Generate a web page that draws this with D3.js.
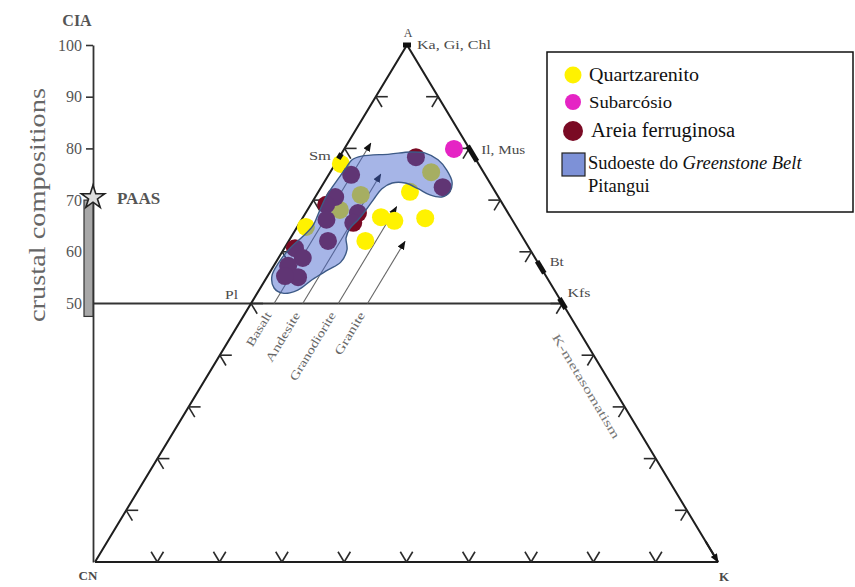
<!DOCTYPE html>
<html><head><meta charset="utf-8">
<script src="https://cdn.jsdelivr.net/npm/d3@7"></script>
<style>
body{margin:0;background:#fff}
svg{display:block}
text{font-family:"Liberation Serif","DejaVu Serif",serif}
</style>
</head><body>
<svg id="c" width="855" height="587"></svg>
<script>
// ---------------- DATA ----------------
const ciaTicks = [50, 60, 70, 80, 90, 100];
const crustalRange = [47.5, 70];
const paasCIA = 70.5;
const edgeTicks = [10, 20, 30, 40, 50, 60, 70, 80, 90];
const cornerNames = ["A", "CN", "K"];

const mineralNames = ["Ka, Gi, Chl", "Il, Mus", "Bt", "Kfs", "Sm", "Pl"];
const mineralA = [100, 79, 57, 50, 78.5, 50];
const mineralK = [0, 21, 43, 50, 0, 0];

const trendNames = ["Basalt", "Andesite", "Granodiorite", "Granite"];
const trendK = [3.7, 8.3, 14.0, 18.7];
const trendTopA = [81, 75, 68.7, 62];

// samples: A (%) and K (%) of the A–CN–K triangle
const quartzA = [77.0, 64.8, 71.6, 66.7, 66.0, 66.5, 62.1, 75.4, 71.0, 68.1];
const quartzK = [0.9, 1.4, 14.7, 12.5, 15.0, 19.7, 12.3, 16.2, 7.1, 5.2];
const subarcA = [79.9];
const subarcK = [17.6];
const ferroA = [74.9, 78.3, 72.5, 70.6, 69.1, 66.2, 62.1, 67.5, 65.6, 60.7, 58.8, 57.3, 55.1, 55.3];
const ferroK = [3.6, 12.3, 19.5, 3.2, 2.5, 4.0, 6.3, 8.4, 8.6, 1.7, 3.9, 2.3, 5.0, 2.8];

// field of the southwest Greenstone Belt Pitangui
const fieldA = [77.8, 78.5, 78.9, 79.3, 79.1, 77.8, 75.8, 73.5, 71.6, 70.6, 71.0, 72.2, 73.3, 73.3, 72.2, 70.2, 68.1, 66.2, 64.6, 62.7, 60.4, 58.0, 56.5, 54.6, 52.6, 52.0, 53.0, 55.3, 58.0, 60.7, 62.9, 65.0, 68.1, 71.0, 73.9, 76.2];
const fieldK = [2.3, 3.5, 7.8, 10.9, 13.4, 16.1, 18.5, 20.5, 21.1, 20.3, 18.2, 15.7, 13.1, 11.0, 9.9, 9.6, 9.4, 9.1, 8.6, 8.9, 10.2, 10.4, 9.1, 7.5, 6.2, 4.1, 2.2, 0.7, 0.5, 0.9, 1.8, 2.4, 2.0, 1.7, 1.9, 2.1];

const legendLabels = ["Quartzarenito", "Subarcósio", "Areia ferruginosa"];
const colors = {quartz: "#fff200", subarc: "#e524c4", ferro: "#7a0a24", field: "rgb(70,100,205)", swatch: "#7d91d7"};

// ---------------- SCALES ----------------
const svg = d3.select("#c");
const aY = d3.scaleLinear().domain([0, 100]).range([562, 45]);
const kX = d3.scaleLinear().domain([0, 100]).range([95, 718]);
const aX = d3.scaleLinear().domain([0, 100]).range([0, 312]);
function proj(a, k) { return [kX(k) + aX(a), aY(a)]; }
const CNp = proj(0, 0), Kp = proj(0, 100), Ap = proj(100, 0);
function unit(p, q) { const dx = q[0] - p[0], dy = q[1] - p[1], l = Math.hypot(dx, dy); return [dx / l, dy / l]; }
const leftAng = Math.atan2(Ap[1] - CNp[1], Ap[0] - CNp[0]) * 180 / Math.PI;   // ~ -59
const rightAng = Math.atan2(Kp[1] - Ap[1], Kp[0] - Ap[0]) * 180 / Math.PI;    // ~ 59

const defs = svg.append("defs");
defs.append("marker").attr("id", "ah").attr("viewBox", "0 0 10 10").attr("refX", 9).attr("refY", 5)
  .attr("markerWidth", 9).attr("markerHeight", 9).attr("markerUnits", "userSpaceOnUse").attr("orient", "auto")
  .append("path").attr("d", "M0,1L10,5L0,9z").attr("fill", "#111");
defs.append("marker").attr("id", "ahk").attr("viewBox", "0 0 10 10").attr("refX", 9).attr("refY", 5)
  .attr("markerWidth", 9).attr("markerHeight", 9).attr("markerUnits", "userSpaceOnUse").attr("orient", "auto")
  .append("path").attr("d", "M0,1L10,5L0,9z").attr("fill", "#111");

const gray = "#4a4a4a";

// ---------------- CIA AXIS ----------------
const axis = d3.axisLeft(aY).tickValues(ciaTicks).tickSize(7).tickSizeOuter(0).tickPadding(4);
const ax = svg.append("g").attr("transform", "translate(93,0)").call(axis);
ax.select(".domain").attr("stroke", "#333").attr("stroke-width", 1.8);
ax.selectAll(".tick line").attr("stroke", "#333").attr("stroke-width", 1.6);
ax.selectAll(".tick text").attr("font-family", "Liberation Serif").attr("font-size", 16).attr("fill", "#555");

svg.append("text").attr("x", 77).attr("y", 26).attr("text-anchor", "middle")
  .attr("font-size", 16).attr("font-weight", "bold").attr("fill", "#555").text("CIA");
svg.append("text").attr("transform", "translate(45,205) rotate(-90)")
  .attr("text-anchor", "middle").attr("font-size", 24).attr("fill", "#666")
  .attr("textLength", 234).attr("lengthAdjust", "spacingAndGlyphs").text("crustal compositions");

// 50 line
svg.append("line").attr("x1", 93).attr("y1", aY(50)).attr("x2", proj(50, 50)[0]).attr("y2", aY(50))
  .attr("stroke", "#333").attr("stroke-width", 2.2);

// crustal bar
svg.append("rect").attr("x", 84).attr("width", 9).attr("y", aY(crustalRange[1]))
  .attr("height", aY(crustalRange[0]) - aY(crustalRange[1]))
  .attr("fill", "#a8a8a8").attr("stroke", "#333").attr("stroke-width", 1.2);
svg.append("path").attr("d", d3.symbol(d3.symbolStar, 170)())
  .attr("transform", `translate(93,${aY(paasCIA)})`)
  .attr("fill", "#ddd").attr("stroke", "#222").attr("stroke-width", 1.6);
svg.append("text").attr("x", 117).attr("y", aY(paasCIA) + 6).attr("font-size", 17)
  .attr("font-weight", "bold").attr("fill", "#555").text("PAAS");

// ---------------- TRIANGLE ----------------
svg.append("path").attr("d", d3.line()([CNp, Ap, Kp]))
  .attr("fill", "none").attr("stroke", "#1e1e1e").attr("stroke-width", 2);
svg.append("line").attr("x1", CNp[0]).attr("y1", CNp[1]).attr("x2", Kp[0]).attr("y2", Kp[1])
  .attr("stroke", "#1e1e1e").attr("stroke-width", 2.2);
const kArrowStart = proj(4, 96);
svg.append("line").attr("x1", kArrowStart[0]).attr("y1", kArrowStart[1]).attr("x2", Kp[0]).attr("y2", Kp[1])
  .attr("stroke", "#1e1e1e").attr("stroke-width", 2).attr("marker-end", "url(#ahk)");

// edge ticks (grid stubs)
const armLen = 12;
const tickArms = [];
edgeTicks.forEach(t => {
  const pb = proj(0, t);
  tickArms.push([pb, unit(CNp, Ap)], [pb, unit(Kp, Ap)]);
  const pl = proj(t, 0);
  tickArms.push([pl, unit(CNp, Kp)], [pl, unit(Ap, Kp)]);
  const pr = proj(t, 100 - t);
  tickArms.push([pr, unit(Kp, CNp)], [pr, unit(Ap, CNp)]);
});
svg.append("g").selectAll("line").data(tickArms).join("line")
  .attr("x1", d => d[0][0]).attr("y1", d => d[0][1])
  .attr("x2", d => d[0][0] + d[1][0] * armLen).attr("y2", d => d[0][1] + d[1][1] * armLen)
  .attr("stroke", "#2a2a2a").attr("stroke-width", 1.6);

// corner labels
svg.append("text").attr("x", Ap[0] + 1).attr("y", Ap[1] - 8).attr("text-anchor", "middle")
  .attr("font-size", 12).attr("fill", gray).text(cornerNames[0]);
svg.append("text").attr("x", CNp[0] - 7).attr("y", CNp[1] + 18).attr("text-anchor", "middle")
  .attr("font-size", 13).attr("font-weight", "bold").attr("fill", gray).text(cornerNames[1]);
svg.append("text").attr("x", Kp[0] + 6).attr("y", Kp[1] + 19).attr("text-anchor", "middle")
  .attr("font-size", 13).attr("font-weight", "bold").attr("fill", gray).text(cornerNames[2]);

// ---------------- TREND LINES ----------------
const trendLen = {"Basalt": 38, "Andesite": 56, "Granodiorite": 78, "Granite": 48};
trendNames.forEach((n, i) => {
  const p0 = proj(50, trendK[i]), p1 = proj(trendTopA[i], trendK[i]);
  svg.append("line").attr("x1", p0[0]).attr("y1", p0[1]).attr("x2", p1[0]).attr("y2", p1[1])
    .attr("stroke", "#666").attr("stroke-width", 1.1).attr("marker-end", "url(#ah)");
  const pl = proj(48.2, trendK[i]);
  svg.append("text").attr("transform", `translate(${pl[0]},${pl[1]}) rotate(${leftAng})`)
    .attr("text-anchor", "end").attr("dy", "0.35em").attr("font-size", 12).attr("fill", "#666")
    .attr("textLength", trendLen[n]).attr("lengthAdjust", "spacingAndGlyphs").text(n);
});
// K-metasomatism label
{
  const pe = proj(34, 66);
  svg.append("text").attr("transform", `translate(${pe[0] - 26},${pe[1]}) rotate(${rightAng})`)
    .attr("text-anchor", "middle").attr("dy", "0.35em").attr("font-size", 12).attr("fill", "#777")
    .attr("textLength", 120).attr("lengthAdjust", "spacingAndGlyphs").text("K-metasomatism");
}

// ---------------- SAMPLES ----------------
const r = 9;
function dots(A, K, color) {
  svg.append("g").selectAll("circle").data(A.map((a, i) => proj(a, K[i]))).join("circle")
    .attr("cx", d => d[0]).attr("cy", d => d[1]).attr("r", r).attr("fill", color);
}
dots(quartzA, quartzK, colors.quartz);
dots(subarcA, subarcK, colors.subarc);
dots(ferroA, ferroK, colors.ferro);

// field overlay
const fieldPts = fieldA.map((a, i) => proj(a, fieldK[i]));
svg.append("path").attr("d", d3.line().curve(d3.curveCatmullRomClosed.alpha(0.5))(fieldPts))
  .attr("fill", colors.field).attr("fill-opacity", 0.48).attr("stroke", "#3d5a86").attr("stroke-width", 1.4);

// mineral markers + labels
const labelStyle = {
  "Ka, Gi, Chl": {dx: 10, dy: 4, anchor: "start", len: 74},
  "Il, Mus": {dx: 9, dy: 0, anchor: "start", len: 44},
  "Bt": {dx: 9, dy: -1, anchor: "start", len: 14},
  "Kfs": {dx: 5, dy: -7, anchor: "start", len: 23},
  "Sm": {dx: -9, dy: 4, anchor: "end", len: 22},
  "Pl": {dx: -13, dy: -5, anchor: "end", len: 13}
};
const markerLen = {"Ka, Gi, Chl": 8, "Il, Mus": 18, "Bt": 14, "Kfs": 12, "Sm": 6, "Pl": 0};
mineralNames.forEach((n, i) => {
  const p = proj(mineralA[i], mineralK[i]);
  const onLeft = mineralK[i] === 0 && mineralA[i] < 100;
  const ang = onLeft ? leftAng : rightAng;
  const L = markerLen[n];
  if (L > 0) {
    svg.append("rect").attr("x", -L / 2).attr("y", -2.5).attr("width", L).attr("height", 5)
      .attr("transform", `translate(${p[0]},${p[1]}) rotate(${n === "Ka, Gi, Chl" ? 0 : ang})`)
      .attr("fill", "#111");
  }
  const s = labelStyle[n];
  svg.append("text").attr("x", p[0] + s.dx).attr("y", p[1] + s.dy).attr("text-anchor", s.anchor)
    .attr("font-size", 12.5).attr("fill", gray)
    .attr("textLength", s.len).attr("lengthAdjust", "spacingAndGlyphs").text(n);
});

// ---------------- LEGEND ----------------
const lg = svg.append("g");
lg.append("rect").attr("x", 547).attr("y", 52).attr("width", 306).attr("height", 160)
  .attr("fill", "#fff").attr("stroke", "#111").attr("stroke-width", 1.5);
const legColors = [colors.quartz, colors.subarc, colors.ferro];
const legY = [75, 102, 131];
const legR = [8.5, 8, 10];
const legFont = [["Liberation Serif", 18.5, 110], ["Liberation Sans", 16, 83], ["Liberation Serif", 20, 144]];
legendLabels.forEach((l, i) => {
  lg.append("circle").attr("cx", 573).attr("cy", legY[i]).attr("r", legR[i]).attr("fill", legColors[i]);
  lg.append("text").attr("x", i === 2 ? 591 : 589).attr("y", legY[i] + 6)
    .attr("font-family", legFont[i][0]).attr("font-size", legFont[i][1]).attr("fill", "#111")
    .attr("textLength", legFont[i][2]).attr("lengthAdjust", "spacingAndGlyphs").text(l);
});
lg.append("rect").attr("x", 562).attr("y", 153).attr("width", 23).attr("height", 23)
  .attr("fill", colors.swatch).attr("stroke", "#222").attr("stroke-width", 1.2);
const t1 = lg.append("text").attr("x", 588).attr("y", 169).attr("font-size", 18.5).attr("fill", "#111");
t1.append("tspan").text("Sudoeste do ");
t1.append("tspan").attr("font-style", "italic").text("Greenstone Belt");
lg.append("text").attr("x", 588).attr("y", 192).attr("font-size", 18.5).attr("fill", "#111").text("Pitangui");
</script>
</body></html>
